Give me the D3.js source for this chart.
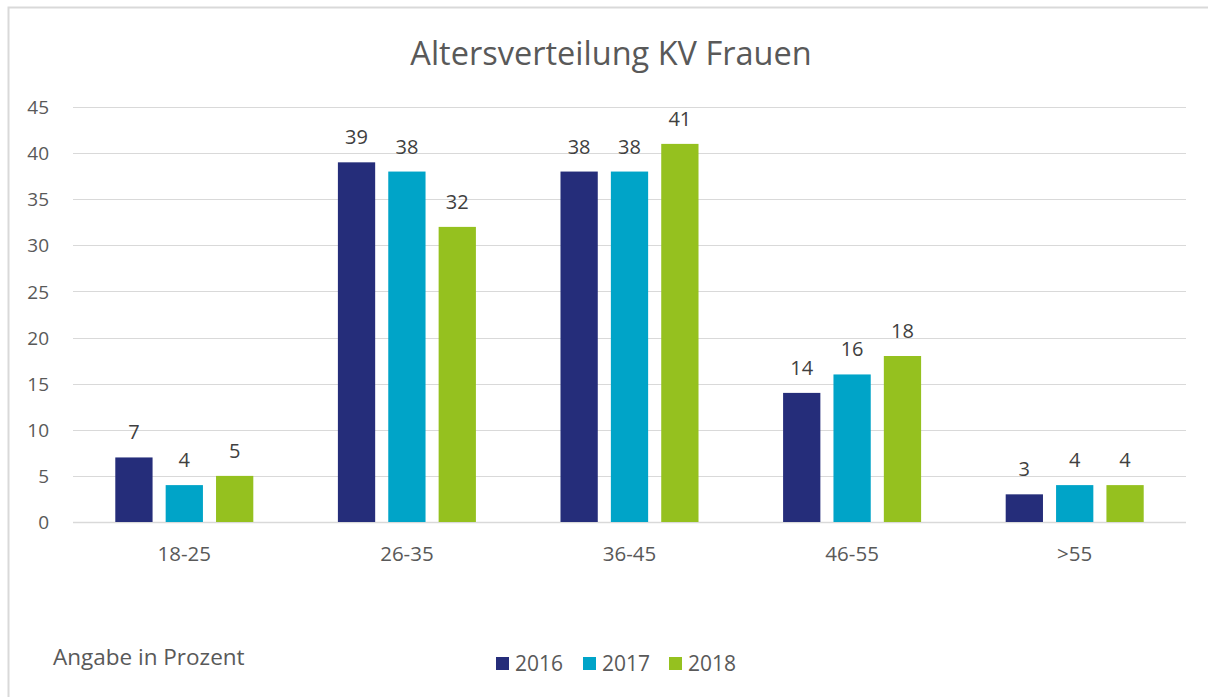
<!DOCTYPE html>
<html>
<head>
<meta charset="utf-8">
<script src="https://cdn.jsdelivr.net/npm/d3@7"></script>
<style>
  body { margin: 0; background: #fff; }
  text { font-family: "Open Sans", "Noto Sans", sans-serif; }
</style>
</head>
<body>
<script>
// Altersverteilung KV Frauen
var WIDTH = 1208, HEIGHT = 697;

var categories = ["18-25", "26-35", "36-45", "46-55", ">55"];
var years = ["2016", "2017", "2018"];
var values2016 = [7, 39, 38, 14, 3];
var values2017 = [4, 38, 38, 16, 4];
var values2018 = [5, 32, 41, 18, 4];
var yTicks = [0, 5, 10, 15, 20, 25, 30, 35, 40, 45];

var COLORS = ["#252d7a", "#00a4c8", "#95c11f"];
var TEXT_COLOR = "#595959";
var LABEL_COLOR = "#404040";
var GRID_COLOR = "#d9d9d9";

var PLOT_LEFT = 73, PLOT_RIGHT = 1186;
var PLOT_TOP = 107, PLOT_BOTTOM = 522;

var series = [values2016, values2017, values2018];

var svg = d3.select("body").append("svg")
  .attr("width", WIDTH)
  .attr("height", HEIGHT);

// chart frame
svg.append("rect")
  .attr("x", 8.5).attr("y", 7.5)
  .attr("width", WIDTH + 20).attr("height", HEIGHT + 20)
  .attr("fill", "#fff")
  .attr("stroke", GRID_COLOR)
  .attr("stroke-width", 2);

svg.append("text")
  .attr("x", 611).attr("y", 65)
  .attr("text-anchor", "middle")
  .attr("font-size", 32.5)
  .attr("fill", TEXT_COLOR)
  .text("Altersverteilung KV Frauen");

var x0 = d3.scaleBand()
  .domain(categories)
  .range([PLOT_LEFT, PLOT_RIGHT])
  .paddingInner(0.38)
  .paddingOuter(0.19);

var x1 = d3.scaleBand()
  .domain(years)
  .range([0, x0.bandwidth()])
  .paddingInner(0.26);

var y = d3.scaleLinear()
  .domain([0, 45])
  .range([PLOT_BOTTOM, PLOT_TOP]);

// gridlines
svg.append("g")
  .selectAll("line")
  .data(yTicks)
  .join("line")
  .attr("x1", PLOT_LEFT).attr("x2", PLOT_RIGHT)
  .attr("y1", d => Math.round(y(d)) + 0.5)
  .attr("y2", d => Math.round(y(d)) + 0.5)
  .attr("stroke", GRID_COLOR)
  .attr("stroke-width", d => d === 0 ? 1.5 : 1);

// y axis labels
var yAxis = d3.axisLeft(y).tickValues(yTicks).tickSize(0).tickPadding(0);
var yg = svg.append("g")
  .attr("transform", "translate(49,0)")
  .call(yAxis);
yg.select(".domain").remove();
yg.selectAll("text")
  .attr("font-family", "'Open Sans', sans-serif")
  .attr("font-size", 19)
  .attr("fill", TEXT_COLOR)
  .attr("dy", "0.35em");

// x axis labels
var xAxis = d3.axisBottom(x0).tickSize(0).tickPadding(0);
var xg = svg.append("g")
  .attr("transform", "translate(0," + (PLOT_BOTTOM + 32) + ")")
  .call(xAxis);
xg.select(".domain").remove();
xg.selectAll("text")
  .attr("font-family", "'Open Sans', sans-serif")
  .attr("font-size", 20.5)
  .attr("fill", TEXT_COLOR)
  .attr("dy", "0.35em");

// bars
var groups = svg.append("g")
  .selectAll("g")
  .data(categories)
  .join("g")
  .attr("transform", d => "translate(" + x0(d) + ",0)");

groups.selectAll("rect")
  .data((c, i) => years.map((yr, j) => ({ year: yr, value: series[j][i], idx: j })))
  .join("rect")
  .attr("x", d => x1(d.year))
  .attr("y", d => y(d.value))
  .attr("width", x1.bandwidth())
  .attr("height", d => y(0) - y(d.value))
  .attr("fill", d => COLORS[d.idx]);

groups.selectAll("text.val")
  .data((c, i) => years.map((yr, j) => ({ year: yr, value: series[j][i] })))
  .join("text")
  .attr("class", "val")
  .attr("x", d => x1(d.year) + x1.bandwidth() / 2)
  .attr("y", d => y(d.value) - 18)
  .attr("text-anchor", "middle")
  .attr("font-size", 20)
  .attr("fill", LABEL_COLOR)
  .text(d => d.value);

// note
svg.append("text")
  .attr("x", 53).attr("y", 665)
  .attr("font-size", 22.5)
  .attr("fill", TEXT_COLOR)
  .text("Angabe in Prozent");

// legend
var legendX = [496, 583, 669];
var legend = svg.append("g")
  .selectAll("g")
  .data(years)
  .join("g")
  .attr("transform", (d, i) => "translate(" + legendX[i] + ",657)");
legend.append("rect")
  .attr("width", 13).attr("height", 13)
  .attr("fill", (d, i) => COLORS[i]);
legend.append("text")
  .attr("x", 19).attr("y", 14)
  .attr("font-size", 21)
  .attr("fill", TEXT_COLOR)
  .text(d => d);
</script>
</body>
</html>
